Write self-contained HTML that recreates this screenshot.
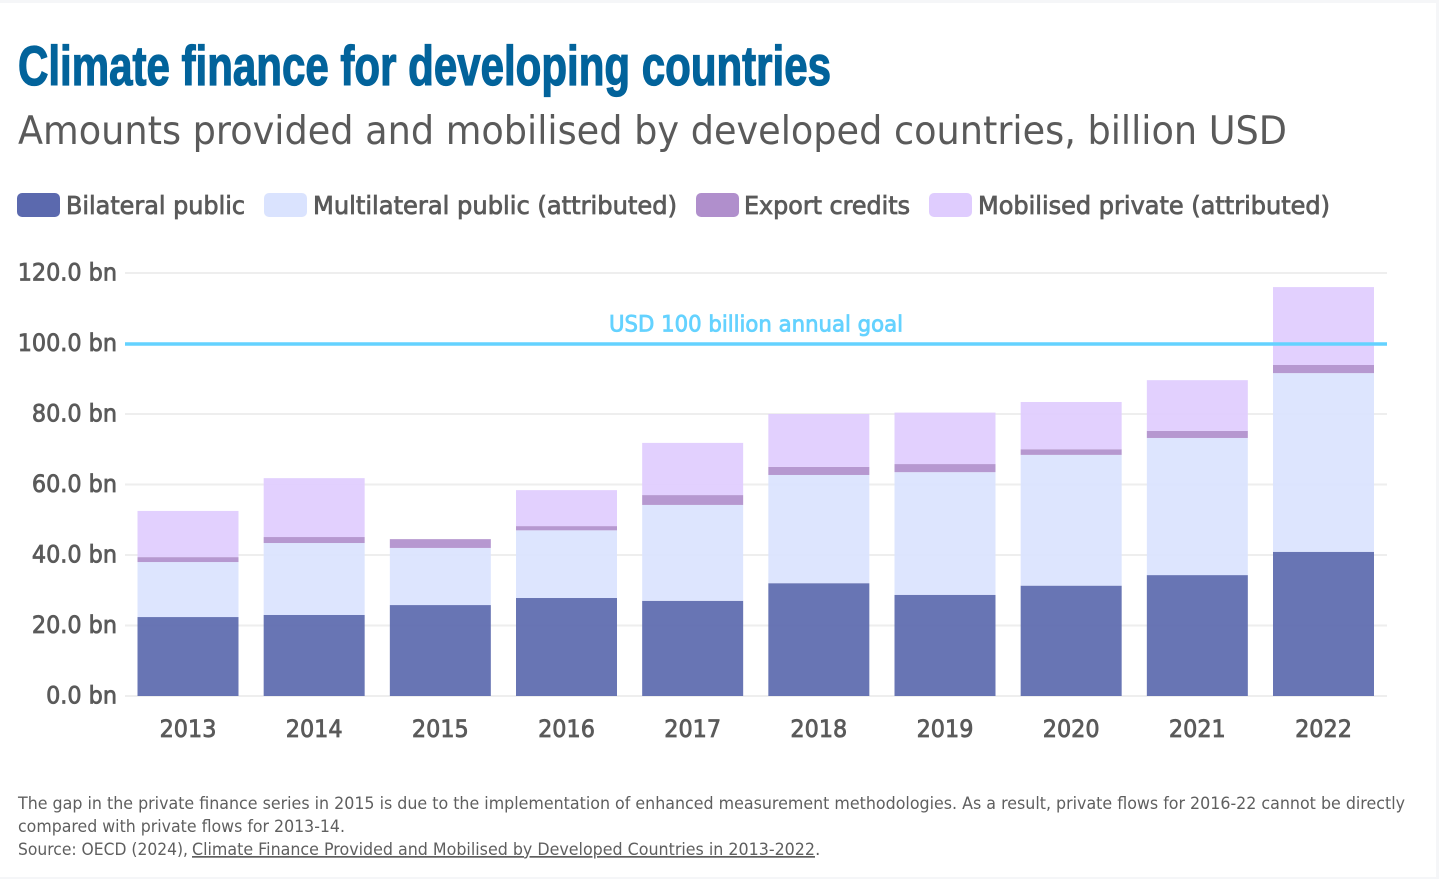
<!DOCTYPE html>
<html lang="en">
<head>
<meta charset="utf-8">
<title>Climate finance for developing countries</title>
<style>
html,body{margin:0;padding:0;background:#fff;width:1439px;height:879px;overflow:hidden}
svg{display:block}
text{font-family:"DejaVu Sans","Liberation Sans",sans-serif}
.semi{stroke-width:.8px;paint-order:stroke}
</style>
</head>
<body>
<svg id="chart" xmlns="http://www.w3.org/2000/svg" width="1439" height="879" viewBox="0 0 1439 879">
  <rect x="0" y="0" width="1439" height="3" fill="#f5f6f8"/>
  <rect x="1436" y="0" width="3" height="879" fill="#f5f6f8"/>
  <rect x="0" y="877" width="1439" height="2" fill="#f5f6f8"/>

  <text x="18" y="85" textLength="813" lengthAdjust="spacingAndGlyphs" stroke="#02639b" stroke-width="1.3" style="font-family:'Liberation Sans',sans-serif;font-weight:700;font-size:56px;paint-order:stroke" fill="#02639b">Climate finance for developing countries</text>
  <text x="18" y="144" textLength="1269" lengthAdjust="spacingAndGlyphs" style="font-size:39px" fill="#5a5a5a">Amounts provided and mobilised by developed countries, billion USD</text>

  <g>
    <rect x="17" y="193" width="43" height="24" rx="5" fill="#5b69ae"/>
    <text class="semi" x="66" y="214" textLength="179" lengthAdjust="spacingAndGlyphs" style="font-size:25px" fill="#5a5a5a" stroke="#5a5a5a">Bilateral public</text>
    <rect x="264" y="193" width="43" height="24" rx="5" fill="#dae3fe"/>
    <text class="semi" x="313" y="214" textLength="364" lengthAdjust="spacingAndGlyphs" style="font-size:25px" fill="#5a5a5a" stroke="#5a5a5a">Multilateral public (attributed)</text>
    <rect x="696" y="193" width="43" height="24" rx="5" fill="#b08fcc"/>
    <text class="semi" x="744" y="214" textLength="166" lengthAdjust="spacingAndGlyphs" style="font-size:25px" fill="#5a5a5a" stroke="#5a5a5a">Export credits</text>
    <rect x="929" y="193" width="43" height="24" rx="5" fill="#dfccfe"/>
    <text class="semi" x="978" y="214" textLength="352" lengthAdjust="spacingAndGlyphs" style="font-size:25px" fill="#5a5a5a" stroke="#5a5a5a">Mobilised private (attributed)</text>
  </g>

  <g id="grid"></g>
  <g id="ylabels"></g>
  <g id="bars"></g>
  <g id="goal"></g>
  <g id="xlabels"></g>

  <g fill="#5f5f5f" style="font-size:17px">
    <text x="18" y="809" textLength="1387" lengthAdjust="spacingAndGlyphs">The gap in the private finance series in 2015 is due to the implementation of enhanced measurement methodologies. As a result, private flows for 2016-22 cannot be directly</text>
    <text x="18" y="832" textLength="327" lengthAdjust="spacingAndGlyphs">compared with private flows for 2013-14.</text>
    <text x="18" y="855" textLength="170" lengthAdjust="spacingAndGlyphs">Source: OECD (2024),</text>
    <a href="#"><text x="192" y="855" textLength="623" lengthAdjust="spacingAndGlyphs" fill="#5f5f5f" text-decoration="underline">Climate Finance Provided and Mobilised by Developed Countries in 2013-2022</text></a>
    <text x="815" y="855">.</text>
  </g>
</svg>
<script>
const categories = ["2013","2014","2015","2016","2017","2018","2019","2020","2021","2022"];
const bilateralPublic = [22.4,23.0,25.8,27.8,27.0,32.0,28.7,31.3,34.3,40.9];
const multilateralPublic = [15.6,20.4,16.2,19.2,27.2,30.7,34.8,37.1,38.9,50.7];
const exportCredits = [1.4,1.7,2.5,1.2,2.8,2.3,2.3,1.6,2.0,2.3];
const mobilisedPrivate = [13.1,16.7,0,10.2,14.8,15.0,14.6,13.4,14.4,22.1];
const yTicks = [0,20,40,60,80,100,120];
const goalValue = 100;
const goalLabel = "USD 100 billion annual goal";

const NS = "http://www.w3.org/2000/svg";
const plotLeft = 125, plotRight = 1387, plotBottom = 696, plotTop = 273, yMax = 120;
const firstCentre = 188, barWidth = 101;
const bandStep = (1323.5 - firstCentre) / 9;
const textColor = "#5a5a5a";

function yScale(v) { return plotBottom - (v / yMax) * (plotBottom - plotTop); }
function xScale(i) { return firstCentre + (i * bandStep * 9) / (categories.length - 1); }
function make(tag, attrs, parent) {
  const el = document.createElementNS(NS, tag);
  for (const k in attrs) el.setAttribute(k, attrs[k]);
  parent.appendChild(el);
  return el;
}
function squeeze(el, k) {
  const w = el.getComputedTextLength();
  el.setAttribute("textLength", (w * k).toFixed(1));
  el.setAttribute("lengthAdjust", "spacingAndGlyphs");
}

const gridG = document.getElementById("grid");
const yLabelG = document.getElementById("ylabels");
yTicks.forEach(function (t) {
  const line = make("line", {x1: plotLeft, x2: plotRight, y1: yScale(t), y2: yScale(t), stroke: "#eeeeee", "stroke-width": 2}, gridG);
  
  
  const label = make("text", {x: 117, y: yScale(t) + 7.5, "text-anchor": "end", fill: textColor, stroke: textColor, "class": "semi", style: "font-size:24px"}, yLabelG);
  
  
  label.textContent = t.toFixed(1) + " bn";
  squeeze(label, 0.93);
});

const barsG = document.getElementById("bars");
const seriesList = [
  {key: "bilateral-public", values: bilateralPublic, color: "#5b69ae"},
  {key: "multilateral-public", values: multilateralPublic, color: "#dae3fe"},
  {key: "export-credits", values: exportCredits, color: "#b08fcc"},
  {key: "mobilised-private", values: mobilisedPrivate, color: "#dfccfe"}
];
categories.forEach(function (cat, i) {
  let base = 0;
  seriesList.forEach(function (s) {
    const v = s.values[i];
    const top = base + v;
    if (v > 0) {
      const r = make("rect", {
        x: xScale(i) - barWidth / 2,
        y: yScale(top),
        width: barWidth,
        height: yScale(base) - yScale(top),
        fill: s.color,
        "fill-opacity": 0.92
      }, barsG);
      
      
    }
    base = top;
  });
});

const goalG = document.getElementById("goal");
const goalLine = make("line", {x1: plotLeft, x2: plotRight, y1: yScale(goalValue) + 0.5, y2: yScale(goalValue) + 0.5, stroke: "#64d2ff", "stroke-width": 3.4}, goalG);


const goalText = make("text", {x: 756, y: yScale(goalValue) - 12, "text-anchor": "middle", fill: "#64d2ff", stroke: "#64d2ff", "class": "semi", style: "font-size:22px"}, goalG);


goalText.textContent = goalLabel;
goalText.setAttribute("textLength", "294");
goalText.setAttribute("lengthAdjust", "spacingAndGlyphs");

const xLabelG = document.getElementById("xlabels");
categories.forEach(function (cat, i) {
  const t = make("text", {x: xScale(i), y: 737, "text-anchor": "middle", fill: textColor, stroke: textColor, "class": "semi", style: "font-size:24px"}, xLabelG);
  
  
  t.textContent = cat;
  squeeze(t, 0.93);
});
</script>
</body>
</html>
